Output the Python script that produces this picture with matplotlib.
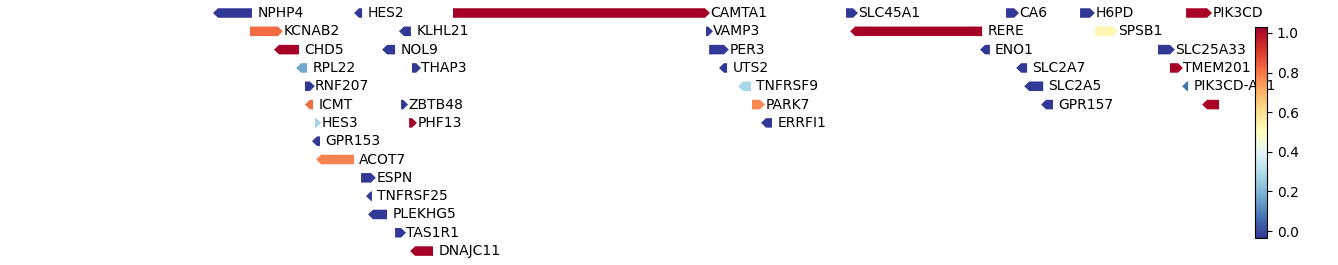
import numpy as np
import matplotlib
matplotlib.use("Agg")
import matplotlib.pyplot as plt
from matplotlib.patches import Polygon
from matplotlib.colors import Normalize
from matplotlib.cm import ScalarMappable

# genes on chr1, positions in kb (body of arrow, head added on the strand side)
genes = ["NPHP4", "HES2", "CAMTA1", "SLC45A1", "CA6", "H6PD", "PIK3CD",
         "KCNAB2", "KLHL21", "VAMP3", "RERE", "SPSB1",
         "CHD5", "NOL9", "PER3", "ENO1", "SLC25A33",
         "RPL22", "THAP3", "UTS2", "SLC2A7", "TMEM201",
         "RNF207", "TNFRSF9", "SLC2A5", "PIK3CD-AS1",
         "ICMT", "ZBTB48", "PARK7", "GPR157", "",
         "HES3", "PHF13", "ERRFI1",
         "GPR153", "ACOT7", "ESPN", "TNFRSF25", "PLEKHG5", "TAS1R1", "DNAJC11"]
starts = [5939, 6482, 6844, 8357, 8973, 9258, 9666,
          6062, 6655, 7818, 8392, 9316,
          6174, 6590, 7830, 8892, 9558,
          6259, 6686, 7887, 9031, 9604,
          6274, 7961, 9062, 9670,
          6293, 6644, 7995, 9127, 9747,
          6313, 6675, 8049,
          6320, 6336, 6490, 6528, 6536, 6621, 6698]
ends = [6070, 6494, 7814, 8384, 9004, 9296, 9747,
        6170, 6682, 7826, 8881, 9385,
        6251, 6621, 7887, 8911, 9604,
        6282, 6702, 7899, 9054, 9635,
        6293, 7991, 9116, 9674,
        6305, 6652, 8026, 9154, 9793,
        6317, 6686, 8072,
        6332, 6463, 6528, 6532, 6590, 6644, 6767]
strands = ["-", "-", "+", "+", "+", "+", "+",
           "+", "-", "+", "-", "+",
           "-", "-", "+", "-", "+",
           "-", "+", "-", "-", "+",
           "+", "-", "-", "-",
           "-", "+", "+", "-", "-",
           "+", "+", "-",
           "-", "-", "+", "-", "-", "+", "-"]
rows = [0, 0, 0, 0, 0, 0, 0,
        1, 1, 1, 1, 1,
        2, 2, 2, 2, 2,
        3, 3, 3, 3, 3,
        4, 4, 4, 4,
        5, 5, 5, 5, 5,
        6, 6, 6,
        7, 8, 9, 10, 11, 12, 13]
values = [-0.03, -0.03, 1.03, -0.03, -0.03, -0.03, 1.02,
          0.82, -0.03, -0.03, 1.03, 0.53,
          1.03, -0.03, -0.03, -0.03, -0.03,
          0.17, -0.03, -0.03, -0.03, 1.02,
          -0.03, 0.28, -0.03, 0.07,
          0.82, -0.03, 0.77, -0.03, 1.02,
          0.27, 1.03, -0.03,
          -0.03, 0.78, -0.03, -0.03, -0.03, -0.03, 1.03]
vmin, vmax = -0.035, 1.03
cbar_ticks = [0.0, 0.2, 0.4, 0.6, 0.8, 1.0]

cmap = plt.get_cmap("RdYlBu_r")
norm = Normalize(vmin=vmin, vmax=vmax)

fig = plt.figure(figsize=(13.38, 2.65), dpi=100)
ax = fig.add_axes([0, 0, 1, 1])
ax.set_xlim(5100, 10251)
ax.set_ylim(13.76, -0.71)
ax.axis("off")

head = 19.0   # arrow head length, kb
half = 0.26   # half arrow height, rows

for name, s, e, st, r, v in zip(genes, starts, ends, strands, rows, values):
    if st == "+":
        pts = [(s, r - half), (e, r - half), (e + head, r), (e, r + half), (s, r + half)]
    else:
        pts = [(e, r - half), (s, r - half), (s - head, r), (s, r + half), (e, r + half)]
    ax.add_patch(Polygon(pts, closed=True, facecolor=cmap(norm(v)), edgecolor="none"))
    if name:
        ax.text(e + head + 1, r, name, fontsize=10, va="center", ha="left")

cax = fig.add_axes([1255 / 1338, 27 / 265, 12 / 1338, 211 / 265])
cb = fig.colorbar(ScalarMappable(norm=norm, cmap=cmap), cax=cax)
cb.set_ticks(cbar_ticks)
cb.ax.tick_params(labelsize=10)

fig.savefig("out.png", dpi=100)
